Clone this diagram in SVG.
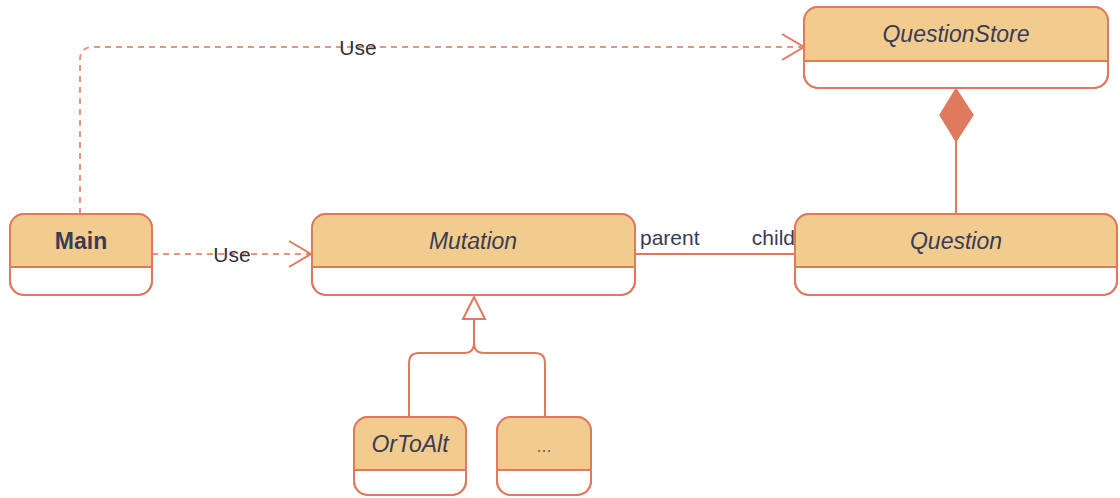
<svg xmlns="http://www.w3.org/2000/svg" width="1120" height="498" viewBox="0 0 1120 498">
  <style>
    .box { fill: #ffffff; stroke: #E07A5F; stroke-width: 2; }
    .head { fill: #F2CC8F; stroke: none; }
    .sep { stroke: #E07A5F; stroke-width: 2; }
    .title { font-family: "Liberation Sans", Arial, sans-serif; font-size: 23px; fill: #393C56; text-anchor: middle; dominant-baseline: central; }
    .it { font-style: italic; }
    .bold { font-weight: bold; }
    .edge { fill: none; stroke: #E07A5F; stroke-width: 2; }
    .dash { stroke-dasharray: 6 5; stroke-opacity: 0.8; }
    .lbl { font-family: "Liberation Sans", Arial, sans-serif; font-size: 21px; fill: #393C56; }
    .use { fill: #333333; text-anchor: middle; dominant-baseline: central; }
  </style>

  <!-- connectors -->
  <g id="connectors">
    <!-- Main uses QuestionStore -->
    <path class="edge dash" d="M80,214 V60 Q80,47 93,47 H803"/>
    <path class="edge" d="M782,34 L804,47 L782,60"/>
    <text class="lbl use" x="358" y="47">Use</text>

    <!-- Main uses Mutation -->
    <path class="edge dash" d="M152,254 H311"/>
    <path class="edge" d="M289,241 L311,254 L289,267"/>
    <text class="lbl use" x="232" y="254">Use</text>

    <!-- Mutation parent / Question child -->
    <path class="edge" d="M635,254 H795"/>
    <text class="lbl" x="640" y="245">parent</text>
    <text class="lbl" x="795" y="245" text-anchor="end">child</text>

    <!-- QuestionStore composed of Question -->
    <path class="edge" d="M956,141 V214"/>
    <polygon points="956,89 973,115 956,141 940,115" fill="#E07A5F" stroke="#E07A5F" stroke-width="1.5"/>

    <!-- generalization to Mutation -->
    <path class="edge" d="M474,319 V343 Q474,353 464,353 H419 Q409,353 409,363 V417"/>
    <path class="edge" d="M474,343 Q474,353 484,353 H535 Q545,353 545,363 V417"/>
    <polygon points="474,297 463,319 485,319" fill="#ffffff" stroke="#E07A5F" stroke-width="2"/>
  </g>

  <!-- class nodes -->
  <g id="main">
    <rect class="box" x="10" y="214" width="142" height="81" rx="14"/>
    <path class="head" d="M10,267 V228 Q10,214 24,214 H138 Q152,214 152,228 V267 Z"/>
    <rect class="box" x="10" y="214" width="142" height="81" rx="14" style="fill:none"/>
    <line class="sep" x1="10" y1="267" x2="152" y2="267"/>
    <text class="title bold" x="81" y="241">Main</text>
  </g>

  <g id="mutation">
    <rect class="box" x="312" y="214" width="323" height="81" rx="14"/>
    <path class="head" d="M312,267 V228 Q312,214 326,214 H621 Q635,214 635,228 V267 Z"/>
    <rect class="box" x="312" y="214" width="323" height="81" rx="14" style="fill:none"/>
    <line class="sep" x1="312" y1="267" x2="635" y2="267"/>
    <text class="title it" x="473" y="241">Mutation</text>
  </g>

  <g id="question">
    <rect class="box" x="795" y="214" width="322" height="81" rx="14"/>
    <path class="head" d="M795,267 V228 Q795,214 809,214 H1103 Q1117,214 1117,228 V267 Z"/>
    <rect class="box" x="795" y="214" width="322" height="81" rx="14" style="fill:none"/>
    <line class="sep" x1="795" y1="267" x2="1117" y2="267"/>
    <text class="title it" x="956" y="241">Question</text>
  </g>

  <g id="questionstore">
    <rect class="box" x="804" y="7" width="304" height="81" rx="14"/>
    <path class="head" d="M804,61 V21 Q804,7 818,7 H1094 Q1108,7 1108,21 V61 Z"/>
    <rect class="box" x="804" y="7" width="304" height="81" rx="14" style="fill:none"/>
    <line class="sep" x1="804" y1="61" x2="1108" y2="61"/>
    <text class="title it" x="956" y="34">QuestionStore</text>
  </g>

  <g id="ortoalt">
    <rect class="box" x="354" y="417" width="112" height="78" rx="14"/>
    <path class="head" d="M354,470 V431 Q354,417 368,417 H452 Q466,417 466,431 V470 Z"/>
    <rect class="box" x="354" y="417" width="112" height="78" rx="14" style="fill:none"/>
    <line class="sep" x1="354" y1="470" x2="466" y2="470"/>
    <text class="title it" x="410" y="444">OrToAlt</text>
  </g>

  <g id="more">
    <rect class="box" x="497" y="417" width="94" height="78" rx="14"/>
    <path class="head" d="M497,470 V431 Q497,417 511,417 H577 Q591,417 591,431 V470 Z"/>
    <rect class="box" x="497" y="417" width="94" height="78" rx="14" style="fill:none"/>
    <line class="sep" x1="497" y1="470" x2="591" y2="470"/>
    <text class="title" x="544" y="446" style="font-size:18px; fill:#6b6d80">...</text>
  </g>
</svg>
